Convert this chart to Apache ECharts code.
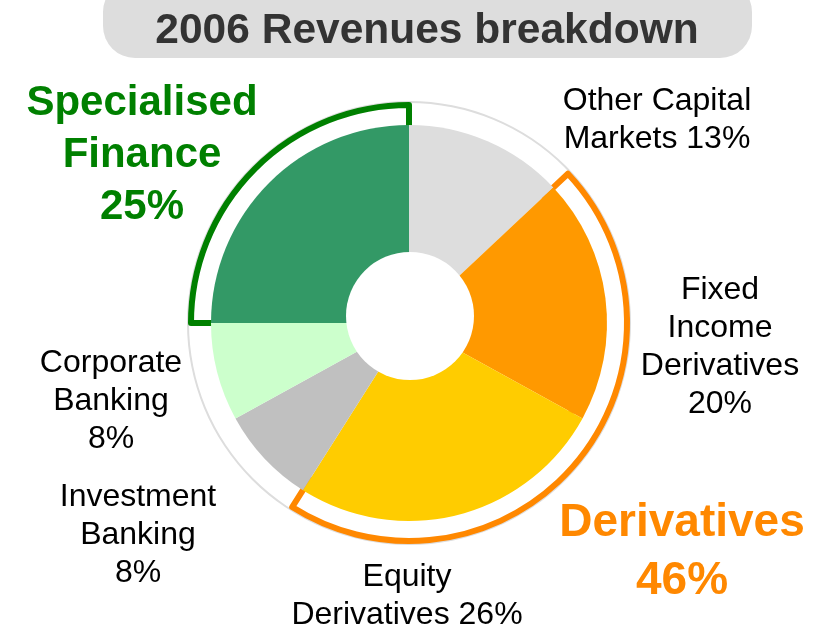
<!DOCTYPE html>
<html lang="en">
<head>
<meta charset="UTF-8">
<title>2006 Revenues breakdown</title>
<script src="https://cdn.jsdelivr.net/npm/echarts@6/dist/echarts.min.js"></script>
<style>html,body{margin:0;padding:0;background:#fff}</style>
</head>
<body>
<div id="main" style="width:817px;height:629px"></div>
<script>
// slices, clockwise from 12 o'clock
var categories = ['Other Capital Markets', 'Fixed Income Derivatives', 'Equity Derivatives',
                  'Investment Banking', 'Corporate Banking', 'Specialised Finance'];
var shares = [13, 20, 26, 8, 8, 25];
var sliceColors = ['#dddddd', '#ff9900', '#ffcc00', '#c0c0c0', '#ccffcc', '#339966'];

// outlined groups (same order round the pie)
var groupNames = ['Other Capital Markets', 'Derivatives', 'Banking', 'Specialised Finance'];
var groupShares = [13, 46, 16, 25];
var groupOutline = [null, '#ff8800', null, '#008000'];

// label text, broken the way the slide breaks it
var labelText = [
    'Other Capital\nMarkets ' + shares[0] + '%',
    'Fixed\nIncome\nDerivatives\n' + shares[1] + '%',
    'Equity\nDerivatives ' + shares[2] + '%',
    'Investment\nBanking\n' + shares[3] + '%',
    'Corporate\nBanking\n' + shares[4] + '%'
];
var labelPos = [[657, 120], [720, 347], [407, 596], [138, 535], [111, 401]];

var FONT = '"Liberation Sans", Arial, sans-serif';
var CX = 409, CY = 323;

var myChart = echarts.init(document.getElementById('main'));

var graphics = [
    {
        type: 'rect', z: 100,
        shape: {x: 103, y: -20, width: 649, height: 78, r: 32},
        style: {fill: '#dddddd'}
    },
    {
        type: 'text', z: 101, x: 427, y: 31,
        style: {text: '2006 Revenues breakdown', fill: '#333333', font: 'bold 42.5px ' + FONT,
                 textAlign: 'center', textVerticalAlign: 'middle'}
    },
    // hole in the middle
    {
        type: 'circle', z: 100,
        shape: {cx: 410, cy: 316, r: 64},
        style: {fill: '#ffffff'}
    },
    {
        type: 'text', z: 101, x: 142, y: 155,
        style: {text: 'Specialised\nFinance\n' + shares[5] + '%', fill: '#008000',
                 font: 'bold 42px ' + FONT, lineHeight: 52,
                 textAlign: 'center', textVerticalAlign: 'middle'}
    },
    {
        type: 'text', z: 101, x: 682, y: 552,
        style: {text: groupNames[1] + '\n' + groupShares[1] + '%', fill: '#ff8800',
                 font: 'bold 46px ' + FONT, lineHeight: 58,
                 textAlign: 'center', textVerticalAlign: 'middle'}
    }
];
labelText.forEach(function (t, i) {
    graphics.push({
        type: 'text', z: 101, x: labelPos[i][0], y: labelPos[i][1],
        style: {text: t, fill: '#000000', font: '32px ' + FONT, lineHeight: 38,
                textAlign: 'center', textVerticalAlign: 'middle'}
    });
});

var option = {
    animation: false,
    graphic: graphics,
    series: [
        {
            // thin grey ring
            type: 'pie', silent: true, z: 1,
            center: [CX, CY], radius: [220, 222],
            label: {show: false}, labelLine: {show: false},
            data: [{value: 100, itemStyle: {color: '#dddddd'}}]
        },
        {
            // group outlines
            type: 'pie', silent: true, z: 2,
            center: [CX, CY], radius: [185, 218], startAngle: 90,
            label: {show: false}, labelLine: {show: false},
            data: groupShares.map(function (v, i) {
                return {
                    name: groupNames[i], value: v,
                    itemStyle: groupOutline[i]
                        ? {color: 'rgba(0,0,0,0)', borderColor: groupOutline[i], borderWidth: 6}
                        : {color: 'rgba(0,0,0,0)', borderWidth: 0}
                };
            })
        },
        {
            type: 'pie', silent: true, z: 3,
            center: [CX, CY], radius: [0, 198], startAngle: 90,
            label: {show: false}, labelLine: {show: false},
            data: shares.map(function (v, i) {
                return {name: categories[i], value: v, itemStyle: {color: sliceColors[i], borderWidth: 0}};
            })
        }
    ]
};
myChart.setOption(option);
</script>
</body>
</html>
